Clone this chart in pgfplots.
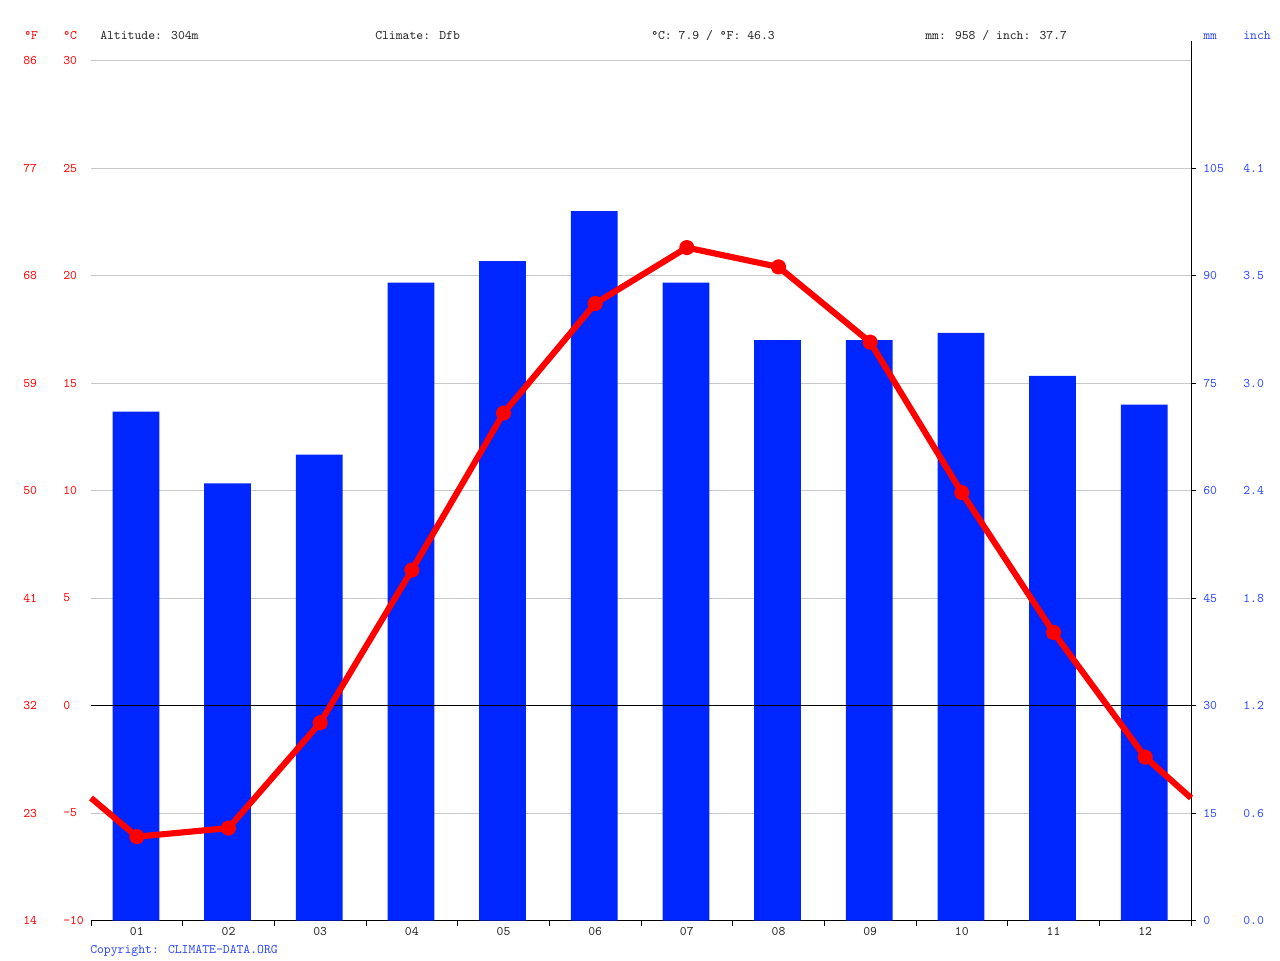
\documentclass[border=0pt]{standalone}
\usepackage{fontspec}
\usepackage{pgfplots}
\usepackage{pgfplotstable}
\pgfplotsset{compat=1.18}

\definecolor{cdred}{HTML}{FF0000}
\definecolor{cdblue}{HTML}{0026FF}
\definecolor{cdlabel}{HTML}{2B45FF}
\definecolor{cdgrid}{HTML}{C8C8C8}
\definecolor{cdtext}{HTML}{222222}

\newcommand{\cdfont}{\ttfamily\fontsize{9.8pt}{12pt}\selectfont}

% precipitation, mm
\pgfplotstableread{
month mm
1  71
2  61
3  65
4  89
5  92
6  99
7  89
8  81
9  81
10 82
11 76
12 72
}\precip

% mean temperature, degC (first and last row are the line ends at the frame)
\pgfplotstableread{
month temp
0.5  -4.3
1    -6.1
2    -5.7
3    -0.8
4     6.3
5    13.6
6    18.7
7    21.3
8    20.4
9    16.9
10    9.9
11    3.4
12   -2.4
12.5 -4.3
}\temps

\pgfplotsset{
  cdaxis/.style={
    at={(68.25pt,29.6pt)}, anchor=south west,
    scale only axis, width=825pt, height=645pt,
    xmin=0.5, xmax=12.5, clip=false,
    tick label style={font=\cdfont, inner sep=0pt},
  },
  labelsonly/.style={
    axis line style={draw=none}, major tick length=0pt, minor tick length=0pt,
  },
}

\begin{document}
\begin{tikzpicture}
\path[use as bounding box] (0,0) rectangle (960pt,720pt);

% bars, grid, frame on bottom and right
\begin{axis}[cdaxis,
  ymin=0, ymax=120,
  axis x line*=bottom, axis y line*=right,
  axis line style={black, line width=0.75pt},
  xtick={0.5,1.5,...,12.5}, xticklabels={},
  ytick={0,15,...,105}, yticklabels={},
  tick align=outside, major tick length=3.75pt,
  tick style={black, line width=0.75pt},
  ymajorgrids, grid style={cdgrid, line width=0.75pt},
  extra y ticks={120}, extra y tick labels={},
  extra y tick style={major tick length=0pt, grid=major},
]
\addplot[ybar, bar width=0.51, bar shift=-0.01, fill=cdblue, draw=none] table[x=month, y=mm] {\precip};
\draw[black, line width=0.75pt] (rel axis cs:1,1) -- ++(0pt,15pt);
\end{axis}

% month labels and mm labels
\begin{axis}[cdaxis, labelsonly,
  ymin=0, ymax=120,
  xtick={1,...,12},
  xticklabels={01,02,03,04,05,06,07,08,09,10,11,12},
  xticklabel style={anchor=north, yshift=-5.25pt, text=cdtext},
  ytick={0,15,...,105},
  yticklabels={0,15,30,45,60,75,90,105},
  yticklabel pos=right,
  yticklabel style={anchor=west, xshift=9pt, text=cdlabel},
]
\end{axis}

% inch labels
\begin{axis}[cdaxis, labelsonly,
  ymin=0, ymax=120,
  xtick=\empty,
  ytick={0,15,...,105},
  yticklabels={0.0,0.6,1.2,1.8,2.4,3.0,3.5,4.1},
  yticklabel pos=right,
  yticklabel style={anchor=west, xshift=39pt, text=cdlabel},
]
\end{axis}

% degF labels
\begin{axis}[cdaxis, labelsonly,
  ymin=14, ymax=86,
  xtick=\empty,
  ytick={14,23,...,86},
  yticklabels={14,23,32,41,50,59,68,77,86},
  yticklabel style={anchor=west, xshift=-51pt, text=cdred},
]
\end{axis}

% temperature line, zero line, degC labels
\begin{axis}[cdaxis, labelsonly,
  ymin=-10, ymax=30,
  xtick=\empty,
  ytick={-10,-5,...,30},
  yticklabels={-10,-5,0,5,10,15,20,25,30},
  yticklabel style={anchor=west, xshift=-21pt, text=cdred},
  extra y ticks={0}, extra y tick labels={},
  extra y tick style={grid=major, major grid style={black, line width=0.75pt}},
]
\addplot[cdred, line width=4.6pt, line join=round,
  mark=*, mark size=3.5pt, mark indices={2,...,13},
  mark options={solid, fill=cdred, draw=none}]
  table[x=month, y=temp] {\temps};
\end{axis}

% header and footer
\begin{scope}[every node/.style={inner sep=0pt, anchor=base west, font=\cdfont}]
\node[text=cdred] at (18pt,690pt) {°F};
\node[text=cdred] at (47.25pt,690pt) {°C};
\node[text=cdtext] at (75pt,690pt) {Altitude: 304m};
\node[text=cdtext] at (281.25pt,690pt) {Climate: Dfb};
\node[text=cdtext] at (488.25pt,690pt) {°C: 7.9 / °F: 46.3};
\node[text=cdtext] at (693.75pt,690pt) {mm: 958 / inch: 37.7};
\node[text=cdlabel] at (902.25pt,690pt) {mm};
\node[text=cdlabel] at (932.25pt,690pt) {inch};
\node[text=cdlabel] at (67.5pt,5.25pt) {Copyright: CLIMATE-DATA.ORG};
\end{scope}
\end{tikzpicture}
\end{document}
